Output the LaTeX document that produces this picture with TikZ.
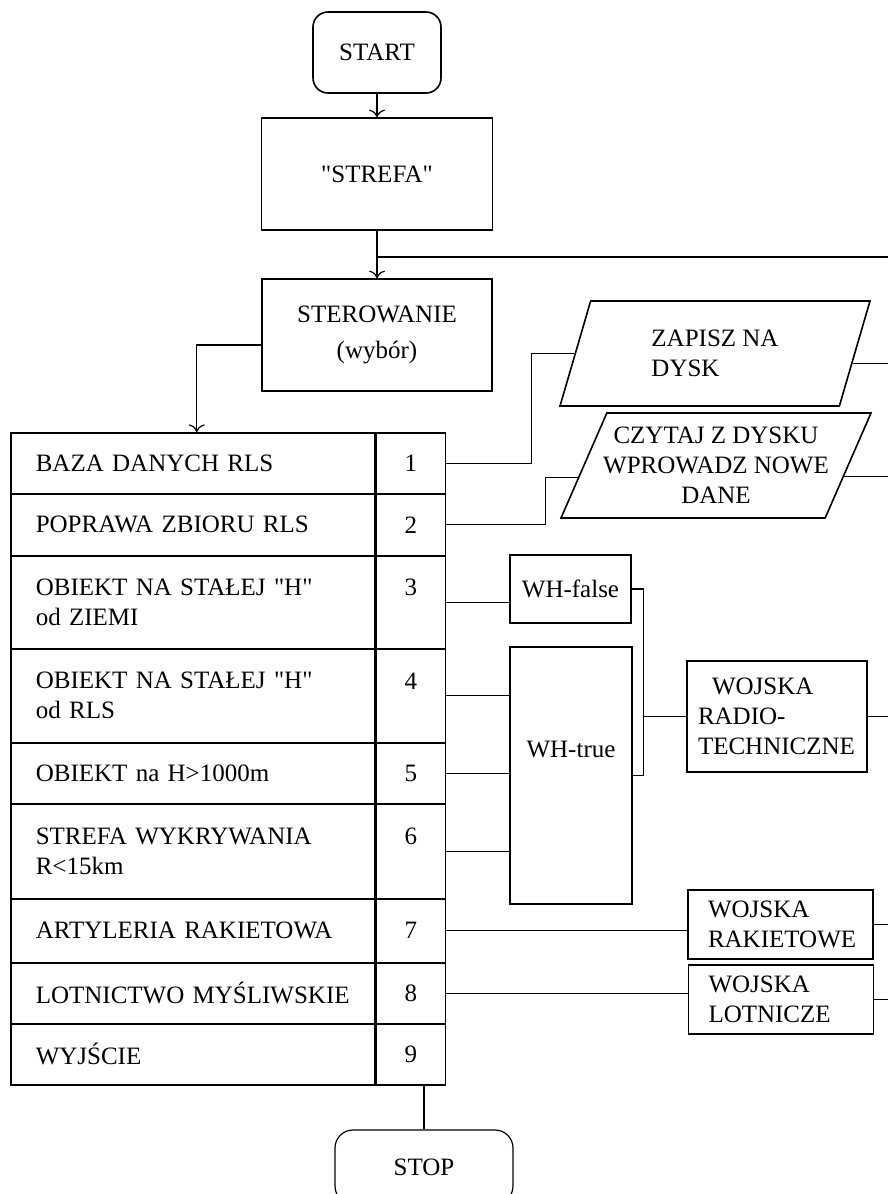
\documentclass[tikz,border=0pt]{standalone}
\usepackage{fontspec}
\setmainfont{Liberation Serif}
\usepackage{tikz}
\usetikzlibrary{shapes.geometric, positioning, arrows.meta}

\begin{document}
\begin{tikzpicture}[
    x=0.5pt, y=-0.5pt,
    >={To[scale=1.3]},
    every node/.style={font=\fontsize{12.5}{15}\selectfont},
    box/.style={rectangle, draw=black, thick, inner sep=2pt, align=center},
    terminal/.style={box, rounded corners=7.5pt},
    cell/.style={rectangle, draw=black, thick, align=left, text width=157pt, inner xsep=12.5pt, inner ysep=0pt},
    numcell/.style={rectangle, draw=black, thick, minimum width=34.5pt, inner sep=0pt, align=center},
    disk/.style={trapezium, trapezium left angle=63, trapezium right angle=117, trapezium stretches body,
        draw=black, thick, minimum width=155pt, minimum height=52.5pt, align=left},
    troops/.style={box, align=left, minimum height=34.5pt, minimum width=92.5pt, text width=72.5pt},
    wire/.style={line width=0.6pt}
]
\useasboundingbox (0,0) rectangle (888,1194);
\coordinate (rim) at (888,0);

\node[terminal, minimum width=64pt, minimum height=40.5pt] (start) at (377,52.5) {START};
\node[box, minimum width=115.5pt, minimum height=56pt] (strefa) at (377,174) {\textquotedbl STREFA\textquotedbl};
\node[box, minimum width=115pt, minimum height=56pt] (sterowanie) at (377,335) {STEROWANIE\\[3pt](wybór)};

% menu table: text cell + number cell in each row
\foreach \n/\y/\h/\txt/\k in {
    1/432/61/{BAZA DANYCH RLS}/{1},
    2/493/62/{POPRAWA ZBIORU RLS}/{2},
    3/555/93/{OBIEKT NA STAŁEJ \textquotedbl H\textquotedbl\\od ZIEMI}/{3\\\mbox{}},
    4/648/94/{OBIEKT NA STAŁEJ \textquotedbl H\textquotedbl\\od RLS}/{4\\\mbox{}},
    5/742/61/{OBIEKT na H>1000m}/{5},
    6/803/95/{STREFA WYKRYWANIA\\R<15km}/{6\\\mbox{}},
    7/898/64/{ARTYLERIA RAKIETOWA}/{7},
    8/962/61/{LOTNICTWO MYŚLIWSKIE}/{8},
    9/1023/61/{WYJŚCIE}/{9}}{
    \node[cell, minimum height=\h*0.5pt, anchor=north west] (r\n) at (10,\y) {\txt};
    \node[numcell, minimum height=\h*0.5pt, right=0pt of r\n] (n\n) {\k};
}

\node[disk] (zapisz) at (715,353.5) {ZAPISZ NA\\DYSK};
\node[disk, align=center, inner xsep=-7pt] (czytaj) at (716,465.5) {CZYTAJ Z DYSKU\\WPROWADZ NOWE\\DANE};

\node[box, minimum width=60.5pt, minimum height=34pt] (whfalse) at (570.5,589) {WH-false};
\node[box, minimum width=61pt, minimum height=128.5pt, text depth=26pt] (whtrue) at (571,775.5) {WH-true};

\node[box, align=left, minimum width=90pt, minimum height=55.5pt, text width=79pt] (radio) at (777,716.5) {\hspace{7pt}WOJSKA\\RADIO-\\TECHNICZNE};
\node[troops] (rak) at (780.5,924.5) {WOJSKA\\RAKIETOWE};
\node[troops] (lot) at (781,999.5) {WOJSKA\\LOTNICZE};

\node[terminal, line width=0.6pt, rounded corners=9pt, minimum width=89pt, minimum height=37pt] (stop) at (424,1167) {STOP};

\draw[wire, ->] (start) -- (strefa);
\draw[wire, ->] (strefa) -- (sterowanie);
\coordinate (loop) at (888,257);
\draw[wire] (loop) -- (loop -| strefa.south);
\draw[wire, ->] ([yshift=-5pt]sterowanie.west) -| ([xshift=2pt]r1.north);

\draw[wire] (n1.east) -- ++(85,0) |- (zapisz.west);
\draw[wire] (zapisz.-4) -- (zapisz.-4 -| rim);
\draw[wire] (n2.east) -- ++(99,0) |- (czytaj.185);
\draw[wire] (czytaj.-5) -- (czytaj.-5 -| rim);

\draw[wire] (n3.east) -- (n3.east -| whfalse.west);
\foreach \n in {4,5,6}
    \draw[wire] (n\n.east) -- (n\n.east -| whtrue.west);
\draw[wire] (whfalse.east) -- ++(12,0) coordinate (wbus) |- (whtrue.east);
\draw[wire] (wbus |- radio.west) -- (radio.west);
\draw[wire] (radio.east) -- (radio.east -| rim);

\draw[wire] (n7.east) -- (n7.east -| rak.west);
\draw[wire] (rak.east) -- (rak.east -| rim);
\draw[wire] (n8.east) -- (n8.east -| lot.west);
\draw[wire] (lot.east) -- (lot.east -| rim);

\draw[wire] (n9.south -| stop.north) -- (stop.north);
\end{tikzpicture}
\end{document}
